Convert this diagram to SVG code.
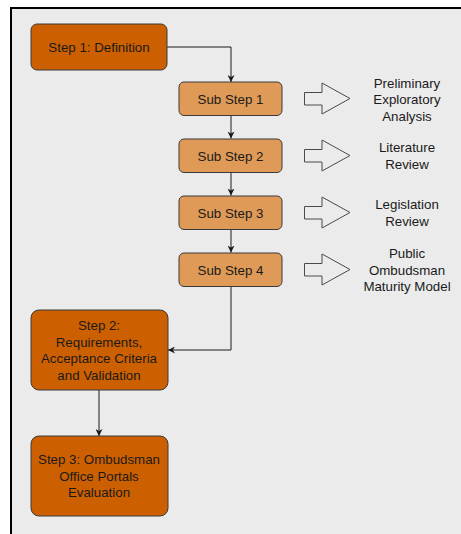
<svg xmlns="http://www.w3.org/2000/svg" width="461" height="534" viewBox="0 0 461 534">
<style>
text{font-family:"Liberation Sans",Arial,sans-serif;font-size:13.3px;fill:#1a1a1a;text-anchor:middle}
.step{fill:#cc6000;stroke:#3a3a3a;stroke-width:1}
.sub{fill:#de9a56;stroke:#3a3a3a;stroke-width:1}
.blk{fill:#ebebeb;stroke:#4a4a4a;stroke-width:1}
.con{fill:none;stroke:#1a1a1a;stroke-width:1}
</style>
<defs>
<marker id="ah" viewBox="0 0 10 10" refX="10" refY="5" markerWidth="7" markerHeight="7" orient="auto" markerUnits="userSpaceOnUse">
<path d="M0,0 L10,5 L0,10 L3,5 z" fill="#1a1a1a"/>
</marker>
</defs>
<rect x="0" y="0" width="461" height="534" fill="#ffffff"/>
<rect x="11" y="8" width="452" height="530" fill="#ebebeb"/>
<path d="M11,539 L11,8 L463,8" fill="none" stroke="#000" stroke-width="2"/>

<g id="connectors">
<path class="con" d="M167,47 H231 V82" marker-end="url(#ah)"/>
<path class="con" d="M231,115.5 V138.5" marker-end="url(#ah)"/>
<path class="con" d="M231,172.5 V195.5" marker-end="url(#ah)"/>
<path class="con" d="M231,229.5 V252.5" marker-end="url(#ah)"/>
<path class="con" d="M231,287 V350 H168" marker-end="url(#ah)"/>
<path class="con" d="M99,390 V436" marker-end="url(#ah)"/>
</g>

<g id="step1"><rect class="step" x="31" y="24" width="136" height="46" rx="6"/><text x="99" y="52">Step 1: Definition</text></g>
<g id="sub1"><rect class="sub" x="179" y="82" width="103" height="33.5" rx="5"/><text x="230.5" y="103.5">Sub Step 1</text></g>
<g id="sub2"><rect class="sub" x="179" y="139" width="103" height="33.5" rx="5"/><text x="230.5" y="160.5">Sub Step 2</text></g>
<g id="sub3"><rect class="sub" x="179" y="196" width="103" height="33.5" rx="5"/><text x="230.5" y="217.5">Sub Step 3</text></g>
<g id="sub4"><rect class="sub" x="179" y="253" width="103" height="33.5" rx="5"/><text x="230.5" y="274.5">Sub Step 4</text></g>

<g id="arrow1"><path class="blk" d="M304.5,92.5 H322 V83 L350,98.5 L322,114 V105 H304.5 Z"/></g>
<g id="arrow2"><path class="blk" d="M304.5,149.5 H322 V140 L350,155.5 L322,171 V162 H304.5 Z"/></g>
<g id="arrow3"><path class="blk" d="M304.5,206.5 H322 V197 L350,212.5 L322,228 V219 H304.5 Z"/></g>
<g id="arrow4"><path class="blk" d="M304.5,263.5 H322 V254 L350,269.5 L322,285 V276 H304.5 Z"/></g>

<g id="label1"><text x="407" y="87.5">Preliminary</text><text x="407" y="104">Exploratory</text><text x="407" y="120.5">Analysis</text></g>
<g id="label2"><text x="407" y="152">Literature</text><text x="407" y="168.5">Review</text></g>
<g id="label3"><text x="407" y="209">Legislation</text><text x="407" y="225.5">Review</text></g>
<g id="label4"><text x="407" y="258">Public</text><text x="407" y="274.5">Ombudsman</text><text x="407" y="291">Maturity Model</text></g>

<g id="step2"><rect class="step" x="31" y="310" width="137" height="80" rx="8"/><text x="99" y="330">Step 2:</text><text x="99" y="346.5">Requirements,</text><text x="99" y="363">Acceptance Criteria</text><text x="99" y="379.5">and Validation</text></g>
<g id="step3"><rect class="step" x="31" y="436" width="137" height="80" rx="8"/><text x="99" y="464">Step 3: Ombudsman</text><text x="99" y="480.5">Office Portals</text><text x="99" y="497">Evaluation</text></g>
</svg>
